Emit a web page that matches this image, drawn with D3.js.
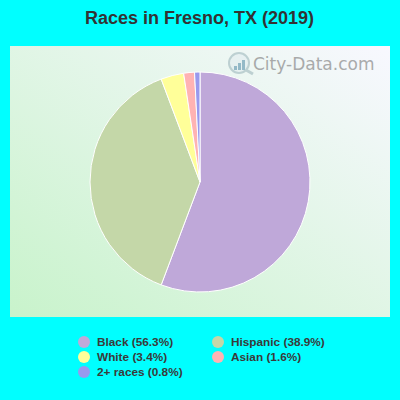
<!DOCTYPE html>
<html>
<head>
<meta charset="utf-8">
<script src="https://cdn.jsdelivr.net/npm/d3@7"></script>
<style>
  html, body { margin: 0; padding: 0; background: #00ffff; }
  svg { display: block; font-family: "Liberation Sans", Arial, sans-serif; }
</style>
</head>
<body>
<svg id="chart" width="400" height="400"></svg>
<script>
var title = "Races in Fresno, TX (2019)";
var races = ["Black", "Hispanic", "White", "Asian", "2+ races"];
var shares = [56.3, 38.9, 3.4, 1.6, 0.8];
var colors = ["#bfa8d9", "#c4d7a8", "#ffff99", "#ffb3b3", "#9999ee"];
// legend reads left to right, then next row
var legendOrder = [0, 1, 2, 3, 4];

var svg = d3.select("#chart");

// panel background
var grad = svg.append("defs").append("linearGradient")
    .attr("id", "panelBg")
    .attr("x1", "0").attr("y1", "1")
    .attr("x2", "1").attr("y2", "0");
grad.append("stop").attr("offset", "0").attr("stop-color", "#c8f3cb");
grad.append("stop").attr("offset", "1").attr("stop-color", "#f8f8ff");

svg.append("rect")
    .attr("x", 10).attr("y", 46)
    .attr("width", 380).attr("height", 271)
    .attr("fill", "url(#panelBg)");

svg.append("text")
    .attr("x", 199.5).attr("y", 24)
    .attr("text-anchor", "middle")
    .attr("font-size", 18)
    .attr("font-weight", "bold")
    .attr("fill", "#333")
    .text(title);

// watermark
var mark = svg.append("g").attr("opacity", 0.7);
mark.append("circle")
    .attr("cx", 239).attr("cy", 63).attr("r", 10)
    .attr("fill", "#e4eef0").attr("stroke", "#a9c0c4").attr("stroke-width", 2);
mark.append("line")
    .attr("x1", 246).attr("y1", 70).attr("x2", 253).attr("y2", 74)
    .attr("stroke", "#a9c0c4").attr("stroke-width", 3);
mark.selectAll(".wbar")
    .data([[234, 4], [238, 7], [242, 10]])
    .enter().append("rect")
    .attr("class", "wbar")
    .attr("x", function(d) { return d[0]; })
    .attr("y", function(d) { return 70 - d[1]; })
    .attr("width", 3)
    .attr("height", function(d) { return d[1]; })
    .attr("fill", "#6f9fb5");
mark.append("text")
    .attr("x", 253).attr("y", 70)
    .attr("font-family", "'DejaVu Sans', sans-serif")
    .attr("font-size", 17)
    .attr("fill", "#8a8a8a")
    .text("City-Data.com");

// pie
var pie = d3.pie().sort(null).value(function(d) { return d; });
var arc = d3.arc().innerRadius(0).outerRadius(110);

svg.append("g")
    .attr("transform", "translate(200,182)")
    .selectAll("path")
    .data(pie(shares))
    .enter().append("path")
    .attr("d", arc)
    .attr("fill", function(d, i) { return colors[i]; })
    .attr("stroke", "#fff")
    .attr("stroke-width", 1);

// legend
var legend = svg.selectAll(".legend")
    .data(legendOrder)
    .enter().append("g")
    .attr("class", "legend")
    .attr("transform", function(d, i) {
      return "translate(" + (i % 2 ? 218 : 84) + "," + (342 + Math.floor(i / 2) * 15) + ")";
    });

legend.append("circle")
    .attr("r", 6)
    .attr("fill", function(d) { return colors[d]; });

legend.append("text")
    .attr("x", 13)
    .attr("y", 4)
    .attr("font-size", 11.8)
    .attr("font-weight", "bold")
    .attr("fill", "#3a3a3a")
    .text(function(d) { return races[d] + " (" + shares[d].toFixed(1) + "%)"; });
</script>
</body>
</html>
